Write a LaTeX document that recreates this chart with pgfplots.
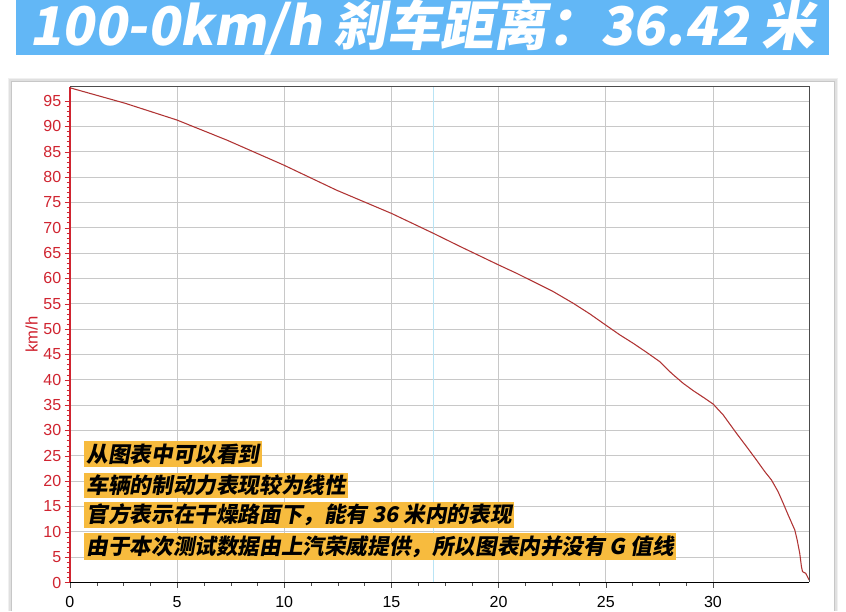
\documentclass[border=0pt]{standalone}
\usepackage{pgfplots}
\pgfplotsset{compat=1.18}
\usepackage{fontspec}
\setmainfont{Liberation Sans}
\newfontfamily\cjk{Noto Sans CJK SC}[FakeSlant=0.18]
\definecolor{bandblue}{RGB}{98,183,246}
\definecolor{axred}{RGB}{208,36,48}
\definecolor{curvered}{RGB}{176,52,52}
\definecolor{hlorange}{RGB}{247,187,62}
\definecolor{gridgray}{RGB}{200,200,200}
\definecolor{cursorblue}{RGB}{185,228,245}

% distance (m) vs speed (km/h)
\pgfplotstableread{
x      v
0      97.6
2.57   94.55
4.98   91.26
7.31   87.3
9.95   82.4
12.44  77.4
15.01  72.8
16.95  68.9
18.2   66.3
20.0   62.65
20.84  61.0
21.62  59.36
22.55  57.39
23.48  55.09
24.26  52.98
24.99  50.81
25.66  48.84
26.28  47.19
26.90  45.42
27.52  43.57
28.07  41.27
28.61  39.30
29.08  37.85
29.62  36.34
30.01  35.2
30.48  33.05
31.10  29.43
31.57  26.80
32.03  24.17
32.42  21.87
32.73  20.23
33.04  17.92
33.28  15.62
33.51  13.32
33.82  10.36
33.93  8.39
34.05  5.76
34.13  3.12
34.18  2.14
34.33  1.81
34.49  0.49
}\brakecurve

\newcommand{\hl}[1]{\colorbox{hlorange}{\cjk\bfseries #1}}

\begin{document}
\begin{tikzpicture}[x=0.75pt,y=0.75pt]
  \useasboundingbox (0,0) rectangle (846,611);
  \fill[white] (0,0) rectangle (846,611);
  % title band
  \fill[bandblue] (16,556) rectangle (829,611);
  \node[text=white, inner sep=0pt] at (422,584)
    {\resizebox{589pt}{!}{\cjk\bfseries 100-0km/h 刹车距离：36.42 米}};
  % panel shadow
  \foreach \w/\c in {6/black!6, 4/black!12, 2/black!22} {
    \draw[line width=\w pt, \c] (12,0) -- (12,529) -- (834,529) -- (834,0);
  }
  \fill[white] (12,0) rectangle (834,529);

  \begin{axis}[
    at={(52.43pt,21.38pt)}, anchor=south west,
    scale only axis,
    width=554.6pt, height=371.8pt,
    xmin=0, xmax=34.5, ymin=0, ymax=97.8,
    axis x line*=bottom, axis y line*=left,
    xtick={0,5,...,30}, ytick={0,5,...,95},
    minor x tick num=3, minor y tick num=4,
    tick align=outside,
    major tick length=4pt, minor tick length=2.5pt,
    grid=major,
    major grid style={gridgray, line width=0.6pt},
    x axis line style={black, line width=1.4pt, -},
    y axis line style={axred, line width=0.9pt, -},
    xtick style={black!70},
    ytick style={axred},
    ticklabel style={font=\fontsize{12}{14}\selectfont},
    xticklabel style={yshift=-3pt},
    yticklabel style={text=axred, xshift=1pt},
    /pgf/number format/assume math mode=true,
    ylabel={km/h},
    ylabel style={text=axred, font=\fontsize{12.5}{14}\selectfont, at={(axis description cs:-0.037,0.5)}},
    clip=false,
  ]
    \addplot[cursorblue, line width=0.9pt] coordinates {(16.95,0) (16.95,97.8)};
    \addplot[curvered, line width=0.8pt, mark=none] table[x=x, y=v] {\brakecurve};
    \draw[black!70, line width=0.8pt] (rel axis cs:0,1) -- (rel axis cs:1,1) -- (rel axis cs:1,0);
  \end{axis}

  % annotations
  \begin{scope}[every node/.style={anchor=west, inner sep=0pt, font=\fontsize{16.2}{18}\selectfont}]
    \setlength{\fboxsep}{1.8pt}
    \node at (84,157) {\hl{从图表中可以看到}};
    \node at (84,125.5) {\hl{车辆的制动力表现较为线性}};
    \node at (84,96) {\hl{官方表示在干燥路面下，能有 36 米内的表现}};
    \node at (84,64.5) {\hl{由于本次测试数据由上汽荣威提供，所以图表内并没有 G 值线}};
  \end{scope}
\end{tikzpicture}
\end{document}
